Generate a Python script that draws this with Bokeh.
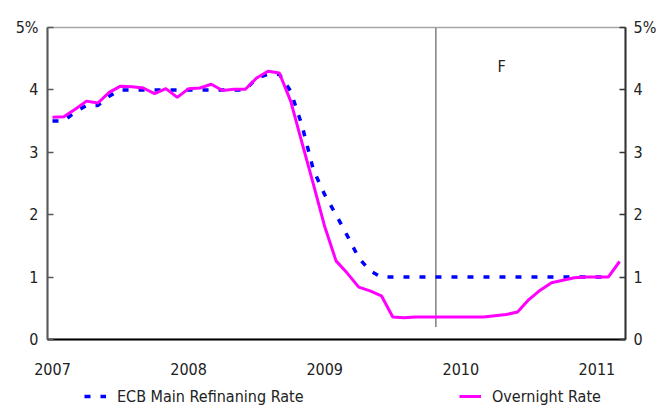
from bokeh.plotting import figure
from bokeh.models import Range1d, LinearAxis, FixedTicker, Legend, LegendItem
from bokeh.layouts import column
from bokeh.embed import file_html
from bokeh.resources import INLINE
from bokeh.core.properties import value

# Months since Jan 2007 (0 = Jan 2007)
months = list(range(51))

overnight_rate = [3.56, 3.57, 3.69, 3.82, 3.79, 3.96, 4.06, 4.05, 4.03, 3.94,
                  4.02, 3.88, 4.02, 4.03, 4.09, 3.99, 4.01, 4.01, 4.19, 4.30,
                  4.27, 3.82, 3.15, 2.49, 1.81, 1.26, 1.06, 0.84, 0.78, 0.70,
                  0.36, 0.35, 0.36, 0.36, 0.36, 0.36, 0.36, 0.36, 0.36, 0.38,
                  0.40, 0.44, 0.64, 0.79, 0.91, 0.95, 0.99, 1.00, 1.00, 1.00,
                  1.25]

ecb_rate = [3.50, 3.50, 3.65, 3.75, 3.75, 3.90, 4.00, 4.00, 4.00, 4.00,
            4.00, 4.00, 4.00, 4.00, 4.00, 4.00, 4.00, 4.00, 4.19, 4.25,
            4.25, 3.98, 3.43, 2.72, 2.32, 2.00, 1.66, 1.31, 1.10, 1.00,
            1.00, 1.00, 1.00, 1.00, 1.00, 1.00, 1.00, 1.00, 1.00, 1.00,
            1.00, 1.00, 1.00, 1.00, 1.00, 1.00, 1.00, 1.00, 1.00, 1.00]
ecb_months = months[:len(ecb_rate)]

year_ticks = [0, 12, 24, 36, 48]
year_labels = ["2007", "2008", "2009", "2010", "2011"]
y_ticks = [0, 1, 2, 3, 4, 5]
y_labels = ["0", "1", "2", "3", "4", "5%"]

forecast_x = [33.8]
forecast_y0 = [0.2]
forecast_y1 = [5.0]
f_label_x = [39.6]
f_label_y = [4.37]
f_label_text = ["F"]

series_names = ["ECB Main Refinaning Rate", "Overnight Rate"]

FONT = "DejaVu Sans Condensed"
FS = "16px"
TXT = "#222222"
ECB_STYLE = dict(line_color="#0000FF", line_width=3.5, line_dash="6 10")
ON_STYLE = dict(line_color="#FF00FF", line_width=3)

W = 659
H_MAIN = 381
H_LEG = 25

p = figure(width=W, height=H_MAIN, output_backend="svg", toolbar_location=None,
           x_range=Range1d(-0.44, 50.52), y_range=Range1d(0, 5),
           min_border_left=47, min_border_right=29, min_border_top=27,
           min_border_bottom=42)

p.grid.visible = False
p.outline_line_color = "#a6a6a6"
p.outline_line_width = 1.5
p.background_fill_color = "white"
p.border_fill_color = "white"

# x axis
xa = p.xaxis[0]
xa.ticker = FixedTicker(ticks=year_ticks)
xa.major_label_overrides = {t: l for t, l in zip(year_ticks, year_labels)}
xa.axis_line_color = "black"
xa.axis_line_width = 2
xa.major_tick_in = 0
xa.major_tick_out = 0
xa.minor_tick_in = 0
xa.minor_tick_out = 0
xa.major_label_standoff = 23
xa.major_label_text_font = FONT
xa.major_label_text_font_size = FS
xa.major_label_text_color = TXT

def style_y(ax, color):
    ax.ticker = FixedTicker(ticks=y_ticks)
    ax.major_label_overrides = {t: l for t, l in zip(y_ticks, y_labels)}
    ax.axis_line_color = color
    ax.axis_line_width = 2
    ax.major_tick_in = 6
    ax.major_tick_out = 0
    ax.major_tick_line_color = color
    ax.major_tick_line_width = 1.5
    ax.minor_tick_in = 0
    ax.minor_tick_out = 0
    ax.major_label_text_font = FONT
    ax.major_label_text_font_size = FS
    ax.major_label_text_color = TXT

ya = p.yaxis[0]
style_y(ya, "#595959")
ya.major_label_standoff = 9

yr = LinearAxis()
style_y(yr, "#333333")
yr.major_label_standoff = 8
p.add_layout(yr, "right")

# forecast divider
p.segment(x0=forecast_x, y0=forecast_y0, x1=forecast_x, y1=forecast_y1,
          line_color="#808080", line_width=1.5)

p.line(ecb_months, ecb_rate, **ECB_STYLE)
p.line(months, overnight_rate, **ON_STYLE)

p.text(x=f_label_x, y=f_label_y, text=f_label_text, text_font=value(FONT),
       text_font_size=FS, text_align="center", text_baseline="middle",
       text_color=TXT)

# legend strip below the chart (its frame is aligned with the chart frame)
q = figure(width=W, height=H_LEG, output_backend="svg", toolbar_location=None,
           x_range=Range1d(0, 1), y_range=Range1d(0, 1),
           x_axis_location=None, y_axis_location=None,
           min_border_left=47, min_border_right=29,
           min_border_top=0, min_border_bottom=0)
q.grid.visible = False
q.outline_line_color = None
q.background_fill_color = "white"
q.border_fill_color = "white"

nan = float("nan")
l_ecb = q.line([nan], [nan], **ECB_STYLE)
l_on = q.line([nan], [nan], **ON_STYLE)

legend = Legend(items=[LegendItem(label=series_names[0], renderers=[l_ecb]),
                       LegendItem(label=series_names[1], renderers=[l_on])],
                location=(37, 0), orientation="horizontal",
                glyph_width=22, label_standoff=11, label_width=190,
                spacing=152, padding=0, margin=0,
                border_line_alpha=0, background_fill_alpha=0,
                label_text_font=FONT, label_text_font_size=FS,
                label_text_color=TXT)
q.add_layout(legend)

layout = column(p, q, spacing=0)

open("out.html", "w").write(file_html(layout, INLINE))
